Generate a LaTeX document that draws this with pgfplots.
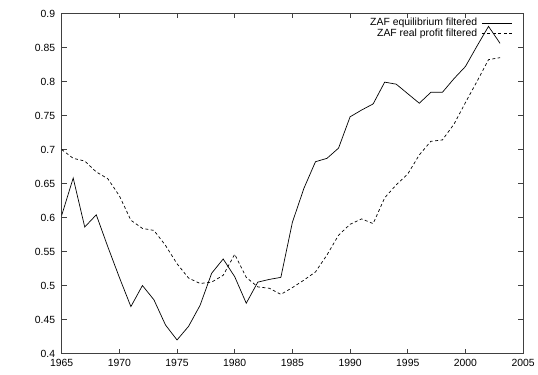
\documentclass[border=0pt]{standalone}
\usepackage{fontspec}
\setmainfont{Liberation Sans}
\usepackage{pgfplots}
\pgfplotsset{compat=1.18}
\begin{document}
\begin{tikzpicture}
\path (-62bp,-21.5bp) rectangle (476bp,355.5bp);
\begin{axis}[
  at={(0,0)}, anchor=south west,
  scale only axis, width=464bp, height=342bp,
  xmin=1965, xmax=2005, ymin=0.4, ymax=0.9,
  xtick={1965,1970,...,2005},
  ytick={0.4,0.45,0.5,0.55,0.6,0.65,0.7,0.75,0.8,0.85,0.9},
  yticklabels={0.4,0.45,0.5,0.55,0.6,0.65,0.7,0.75,0.8,0.85,0.9},
  x tick label style={/pgf/number format/1000 sep={}},
  /pgf/number format/assume math mode=true,
  tick align=inside, tick pos=both,
  major tick length=5bp,
  tick style={black!75, line width=0.7bp},
  axis line style={black!75, line width=0.8bp},
  tick label style={font=\fontsize{10.5}{12}\selectfont},
  xticklabel style={yshift=-2.5bp},
  yticklabel style={xshift=-3bp},
  legend plot pos=right,
  legend cell align=right,
  legend style={draw=none, fill=none, inner sep=0pt, outer sep=0pt,
    at={(0.976,0.987)}, anchor=north east,
    font=\fontsize{10.5}{12}\selectfont,
    row sep=0pt, column sep=4bp,
    nodes={inner sep=0.35bp, text height=7.5bp, text depth=2.5bp}},
  legend image code/.code={\draw[#1] (0bp,0bp) -- (30bp,0bp);},
]
\addplot[black, line width=0.7bp] coordinates {
(1965,0.603) (1966,0.658) (1967,0.586) (1968,0.604) (1969,0.557) (1970,0.512)
(1971,0.469) (1972,0.500) (1973,0.479) (1974,0.442) (1975,0.420) (1976,0.440)
(1977,0.471) (1978,0.518) (1979,0.539) (1980,0.513) (1981,0.474) (1982,0.505)
(1983,0.509) (1984,0.512) (1985,0.593) (1986,0.643) (1987,0.682) (1988,0.687)
(1989,0.702) (1990,0.748) (1991,0.758) (1992,0.767) (1993,0.799) (1994,0.796)
(1995,0.782) (1996,0.768) (1997,0.784) (1998,0.784) (1999,0.804) (2000,0.822)
(2001,0.852) (2002,0.881) (2003,0.856)};
\addlegendentry{ZAF equilibrium filtered}
\addplot[black, line width=0.7bp, dash pattern=on 3bp off 2.5bp] coordinates {
(1965,0.700) (1966,0.687) (1967,0.683) (1968,0.667) (1969,0.657) (1970,0.632)
(1971,0.596) (1972,0.584) (1973,0.581) (1974,0.559) (1975,0.532) (1976,0.511)
(1977,0.503) (1978,0.505) (1979,0.515) (1980,0.546) (1981,0.512) (1982,0.498)
(1983,0.496) (1984,0.487) (1985,0.497) (1986,0.508) (1987,0.520) (1988,0.545)
(1989,0.574) (1990,0.590) (1991,0.598) (1992,0.591) (1993,0.629) (1994,0.648)
(1995,0.664) (1996,0.692) (1997,0.712) (1998,0.714) (1999,0.737) (2000,0.769)
(2001,0.800) (2002,0.832) (2003,0.835)};
\addlegendentry{ZAF real profit filtered}
\end{axis}
\end{tikzpicture}
\end{document}
